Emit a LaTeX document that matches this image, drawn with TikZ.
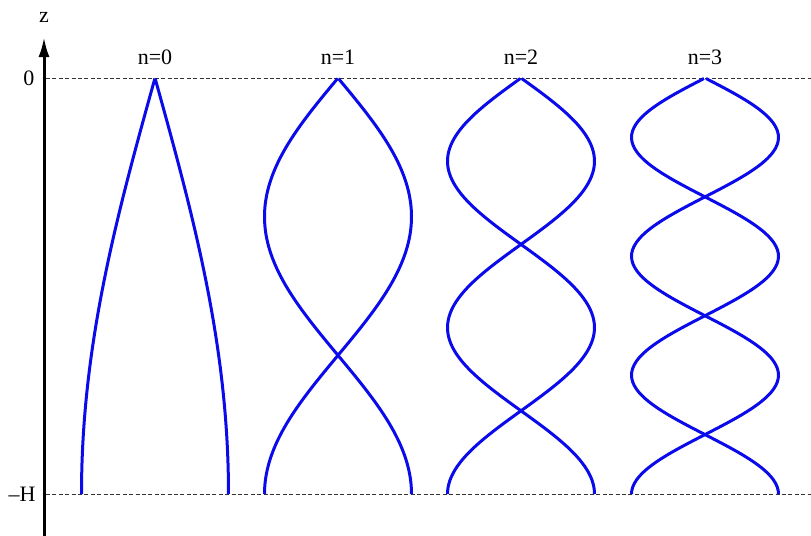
\documentclass[tikz,border=0pt]{standalone}
\usepackage{fontspec}
\setmainfont{Liberation Serif}
\usepackage{tikz}
\usetikzlibrary{arrows.meta, positioning, calc}
\definecolor{mode}{RGB}{10,10,235}

\begin{document}
\begin{tikzpicture}[x=0.5pt, y=-0.5pt,
  every node/.style={font=\fontsize{11}{13}\selectfont, inner sep=0pt},
  axis/.style={line width=1.5pt, -{Latex[length=10pt, width=5.5pt]}},
  level/.style={line width=0.5pt, dash pattern=on 2pt off 1.2pt, draw=black!80},
  curve/.style={line width=1.5pt, draw=mode, line join=round},
]
\useasboundingbox (0,0) rectangle (811,536);
% axis
\coordinate (zbot) at (44,536);
\coordinate (ztop) at (44,37);
\draw[axis] (zbot) -- (ztop);
\node (zlab) at (44,17) {z};
\node (zero) at (29,78) {0};
\node (mH) at (22,494) {--H};
% surface and bottom
\coordinate (s0) at (46,78);  \coordinate (s1) at (811,78);
\coordinate (b0) at (46,494); \coordinate (b1) at (811,494);
\draw[level] (s0) -- (s1);
\draw[level] (b0) -- (b1);
% modes
\foreach \n/\cx in {0/155, 1/338, 2/521, 3/705} {
  \node (lab\n) at (\cx,57) {n=\n};
  \draw[curve] plot[domain=0:1, samples=120, smooth]
    ({\cx+73.5*cos(90*(2*\n+1)*\x)}, {494-416*\x});
  \draw[curve] plot[domain=0:1, samples=120, smooth]
    ({\cx-73.5*cos(90*(2*\n+1)*\x)}, {494-416*\x});
}
\end{tikzpicture}
\end{document}
